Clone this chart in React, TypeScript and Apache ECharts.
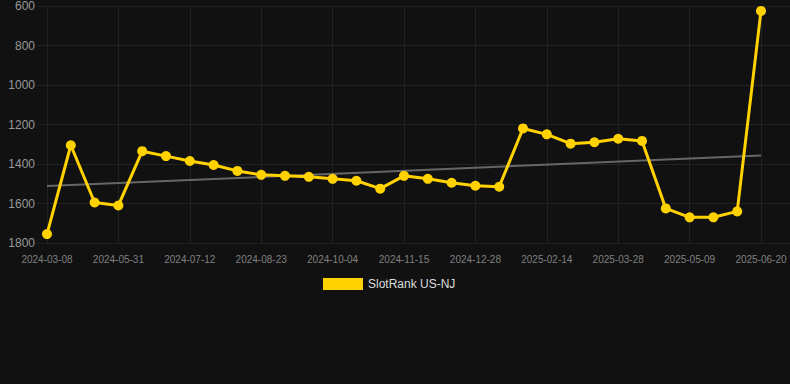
import React, { useEffect, useRef } from "react";
import * as echarts from "echarts";

const categories = [
  "2024-03-08", "2024-04-05", "2024-05-03", "2024-05-31", "2024-06-14", "2024-06-28",
  "2024-07-12", "2024-07-26", "2024-08-09", "2024-08-23", "2024-09-06", "2024-09-20",
  "2024-10-04", "2024-10-18", "2024-11-01", "2024-11-15", "2024-11-29", "2024-12-13",
  "2024-12-28", "2025-01-17", "2025-01-31", "2025-02-14", "2025-02-28", "2025-03-14",
  "2025-03-28", "2025-04-11", "2025-04-25", "2025-05-09", "2025-05-23", "2025-06-06",
  "2025-06-20",
];

const rankValues = [
  1755, 1305, 1595, 1610, 1335, 1360, 1385, 1405, 1435, 1455, 1460, 1465,
  1475, 1485, 1525, 1460, 1475, 1495, 1510, 1515, 1220, 1250, 1297, 1290,
  1272, 1283, 1625, 1670, 1670, 1640, 625,
];

const trendEnds = [1512, 1357];

const seriesName = "SlotRank US-NJ";

const FONT = "Arial, Liberation Sans, sans-serif";

export default function App() {
  const ref = useRef<HTMLDivElement>(null);
  useEffect(() => {
    document.body.style.margin = "0";
    document.body.style.background = "#111111";
    const chart = echarts.init(ref.current!, undefined, { renderer: "svg" });
    chart.setOption({
      animation: false,
      backgroundColor: "#111111",
      grid: [
        { left: 47, right: 29, top: 6, bottom: 141 },
        { left: 37, right: 0, top: 6, bottom: 141 },
      ],
      legend: {
        data: [seriesName],
        top: 273,
        left: 318,
        itemWidth: 40,
        itemHeight: 12,
        itemGap: 10,
        icon: "rect",
        textStyle: { color: "#dddddd", fontSize: 12, fontFamily: FONT },
      },
      xAxis: [
        {
          type: "category",
          gridIndex: 0,
          data: categories,
          boundaryGap: false,
          axisLine: { show: false },
          axisTick: { show: false },
          axisLabel: {
            interval: 2,
            color: "#808080",
            fontSize: 10,
            margin: 11,
            fontFamily: FONT,
          },
          splitLine: { show: true, interval: 2, lineStyle: { color: "#222222", width: 1 } },
        },
        {
          type: "value",
          gridIndex: 1,
          show: false,
        },
      ],
      yAxis: [
        {
          type: "value",
          gridIndex: 0,
          inverse: true,
          min: 600,
          max: 1800,
          interval: 200,
          axisLine: { show: false },
          axisTick: { show: false },
          axisLabel: { show: false },
          splitLine: { show: false },
        },
        {
          type: "value",
          gridIndex: 1,
          inverse: true,
          min: 600,
          max: 1800,
          interval: 200,
          axisLine: { show: false },
          axisTick: { show: false },
          axisLabel: {
            color: "#999999",
            fontSize: 12,
            margin: 2,
            fontFamily: FONT,
            formatter: (v: number) => String(v),
          },
          splitLine: { lineStyle: { color: "#222222", width: 1 } },
        },
      ],
      series: [
        {
          name: "trend",
          type: "line",
          xAxisIndex: 0,
          yAxisIndex: 0,
          data: [
            [0, trendEnds[0]],
            [categories.length - 1, trendEnds[1]],
          ],
          symbol: "none",
          lineStyle: { color: "#666666", width: 2 },
          silent: true,
          z: 3,
        },
        {
          name: seriesName,
          type: "line",
          xAxisIndex: 0,
          yAxisIndex: 0,
          data: rankValues,
          symbol: "circle",
          symbolSize: 10,
          itemStyle: { color: "#ffd200" },
          lineStyle: { color: "#ffd200", width: 3 },
          z: 4,
        },
      ],
    });
    return () => chart.dispose();
  }, []);
  return <div ref={ref} style={{ width: 790, height: 384 }} />;
}
